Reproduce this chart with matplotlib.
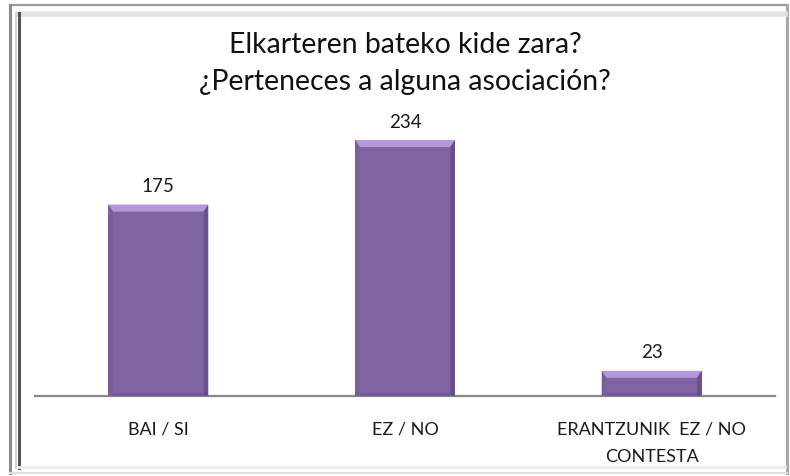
import matplotlib.pyplot as plt
from matplotlib.patches import Polygon
from matplotlib.lines import Line2D

plt.rcParams['font.family'] = ['Lato', 'DejaVu Sans']

categories = ['BAI / SI', 'EZ / NO', 'ERANTZUNIK  EZ / NO\nCONTESTA']
values = [175, 234, 23]
title_lines = ['Elkarteren bateko kide zara?', '¿Perteneces a alguna asociación?']

W, H = 790, 477
fig = plt.figure(figsize=(W / 100, H / 100), dpi=100)

# chart frame (pixel coords from top-left)
def px_line(x0, y0, x1, y1, color, lw):
    fig.add_artist(Line2D([x0 / W, x1 / W], [1 - y0 / H, 1 - y1 / H],
                          transform=fig.transFigure, color=color, lw=lw))

px_line(10, 6, 787, 6, '#9a9a9a', 1.6)
px_line(10, 6, 10, 474, '#8c8c8c', 2.2)
px_line(787, 6, 787, 474, '#a8a8a8', 2.2)
px_line(10, 474, 787, 474, '#dddddd', 1.5)
px_line(19, 15, 785, 15, '#e2e2e2', 4)
px_line(19, 14, 19, 469, '#555555', 2.2)
px_line(16, 14, 16, 469, '#cccccc', 1.2)
px_line(19, 468, 785, 468, '#ebebeb', 2)

ymax = 260
px_per_unit = 256 / 234
ax_h = ymax * px_per_unit
ax = fig.add_axes([35 / W, (H - 397) / H, 740 / W, ax_h / H])
ax.set_xlim(-0.5, 2.5)
ax.set_ylim(0, ymax)

x = list(range(len(values)))
bw = 0.405
ax.bar(x, values, width=bw, color='#8064a2', zorder=2)

# bevel overlays
bx = 4.5 / 246.7
by = 7 / px_per_unit
for xi, v in zip(x, values):
    l, r = xi - bw / 2, xi + bw / 2
    ax.add_patch(Polygon([(l, v), (r, v), (r - bx, v - by), (l + bx, v - by)],
                         closed=True, color='#b497dc', lw=0, zorder=3))
    ax.add_patch(Polygon([(l, 0), (l, v), (l + bx, v - by), (l + bx, 0)],
                         closed=True, color='#7a5e9c', lw=0, zorder=3))
    ax.add_patch(Polygon([(r, 0), (r, v), (r - bx, v - by), (r - bx, 0)],
                         closed=True, color='#6a5088', lw=0, zorder=3))
    ax.add_patch(Polygon([(l + bx, 0), (r - bx, 0), (r - bx, by * 0.5), (l + bx, by * 0.5)],
                         closed=True, color='#72579a', lw=0, zorder=3))
    ax.annotate(str(v), (xi, v), xytext=(0, 7.5), textcoords='offset points',
                ha='center', va='bottom', fontsize=13.5, color='#1a1a1a')

for s in ['top', 'right', 'left']:
    ax.spines[s].set_visible(False)
ax.spines['bottom'].set_color('#888888')
ax.spines['bottom'].set_linewidth(1.6)
ax.set_yticks([])
ax.set_xticks(x)
ax.set_xticklabels(categories, fontsize=13, color='#1a1a1a', linespacing=1.85)
ax.tick_params(axis='x', length=0, pad=18)

fig.text(405 / W, 1 - 45 / H, title_lines[0], ha='center', va='center',
         fontsize=20.4, color='#111111')
fig.text(405 / W, 1 - 82 / H, title_lines[1], ha='center', va='center',
         fontsize=20.4, color='#111111')

fig.savefig('out.png', dpi=100)
